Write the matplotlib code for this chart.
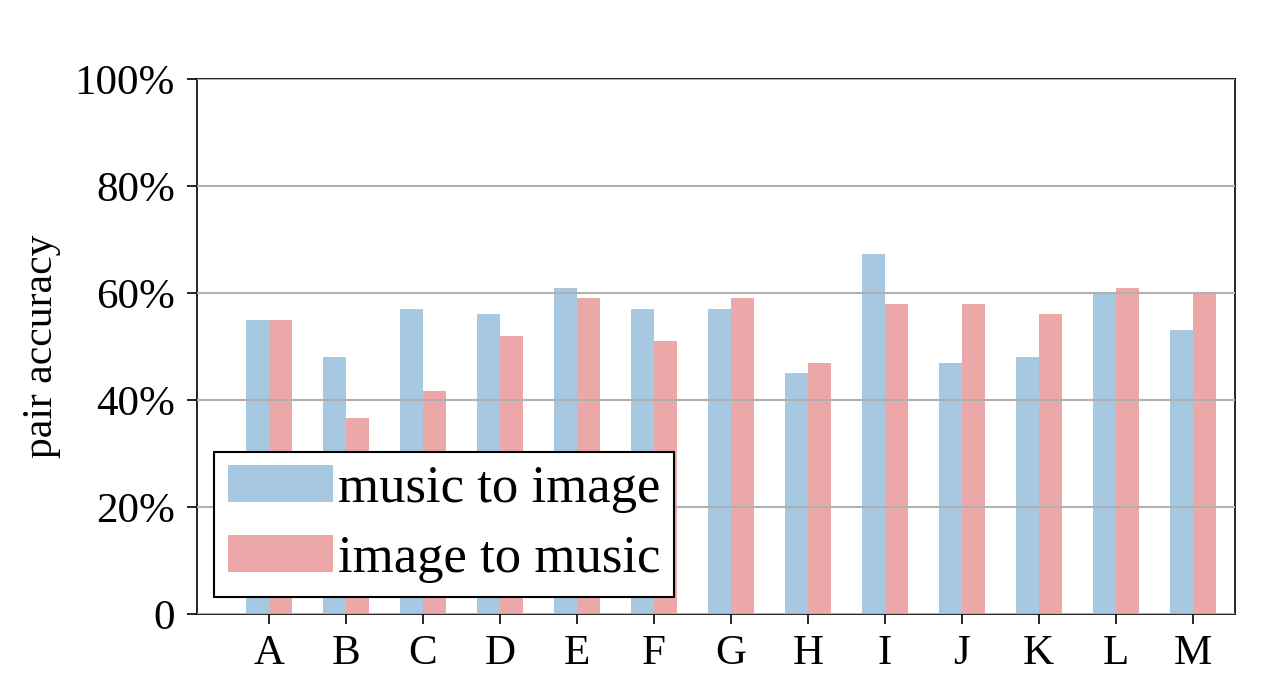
import numpy as np
import matplotlib
matplotlib.use("Agg")
import matplotlib.pyplot as plt
from matplotlib.ticker import FuncFormatter

plt.rcParams['font.family'] = ['Liberation Serif', 'DejaVu Serif']

# data (percent)
categories = ['A', 'B', 'C', 'D', 'E', 'F', 'G', 'H', 'I', 'J', 'K', 'L', 'M']
music_to_image = [55, 48, 57, 56, 61, 57, 57, 45, 67.3, 47, 48, 60, 53]
image_to_music = [55, 36.6, 41.7, 52, 59, 51, 59, 47, 58, 58, 56, 61, 60]
y_ticks = [0, 20, 40, 60, 80, 100]

blue = '#a6c8e0'
pink = '#eca8a9'
width = 0.3

fig = plt.figure(figsize=(12.8, 6.76), dpi=100)
ax = fig.add_axes([197 / 1280, 1 - 614 / 676, (1235 - 197) / 1280, (614 - 79) / 676])

x = np.arange(len(categories))
ax.bar(x - width / 2, music_to_image, width, color=blue, label='music to image')
ax.bar(x + width / 2, image_to_music, width, color=pink, label='image to music')

ax.set_xlim(-0.935, 12.55)
ax.set_ylim(0, 100)
ax.set_xticks(x)
ax.set_xticklabels(categories)
ax.set_yticks(y_ticks)
ax.yaxis.set_major_formatter(FuncFormatter(lambda v, _: '0' if v == 0 else f'{v:.0f}%'))

ax.set_axisbelow(False)
ax.grid(axis='y', color='#b0b0b0', linewidth=1.5)

ax.tick_params(axis='both', labelsize=31, length=7, width=1.2, colors='black')
ax.tick_params(axis='x', pad=8)
ax.tick_params(axis='y', pad=9)
for s in ax.spines.values():
    s.set_linewidth(1.2)

ax.set_ylabel('pair accuracy', fontsize=30, labelpad=10)

leg = ax.legend(loc='lower left', fontsize=38, frameon=True, fancybox=False,
                framealpha=1, edgecolor='black', borderaxespad=0.33,
                handletextpad=0.1, labelspacing=0.42, borderpad=0.25)
leg.get_frame().set_linewidth(1.5)

fig.savefig('out.png', dpi=100)
